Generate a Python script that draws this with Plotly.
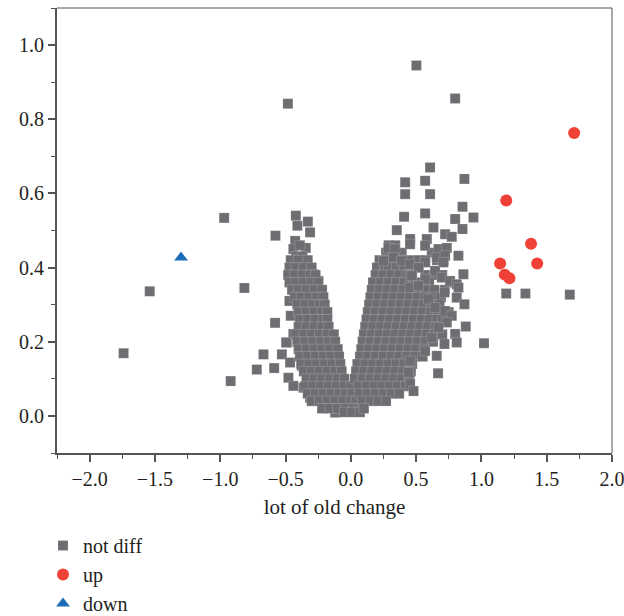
import plotly.graph_objects as go

# ---------------- data ----------------
nd_outliers = [(-1.74, 0.169), (-1.54, 0.336), (-0.97, 0.534), (-0.92, 0.094), (-0.815, 0.345),
               (-0.72, 0.125), (-0.669, 0.166), (-0.587, 0.129), (-0.58, 0.251), (-0.577, 0.486),
               (-0.482, 0.842), (0.502, 0.945), (0.799, 0.856), (1.19, 0.33), (1.337, 0.33),
               (1.677, 0.327), (1.02, 0.196), (0.668, 0.115)]

nd_left_scatter = [(-0.421, 0.540), (-0.329, 0.524), (-0.409, 0.513), (-0.312, 0.495), (-0.426, 0.472),
                   (-0.345, 0.453), (-0.337, 0.418), (-0.413, 0.391), (-0.452, 0.369), (-0.286, 0.382),
                   (-0.375, 0.373), (-0.248, 0.364), (-0.44, 0.346), (-0.312, 0.351), (-0.222, 0.337),
                   (-0.413, 0.319), (-0.286, 0.328), (-0.363, 0.297), (-0.235, 0.306), (-0.299, 0.292),
                   (-0.44, 0.45), (-0.39, 0.46), (-0.42, 0.43), (-0.37, 0.43),
                   (-0.375, 0.283), (-0.286, 0.288), (-0.21, 0.279), (-0.363, 0.256), (-0.248, 0.243),
                   (-0.44, 0.221), (-0.49, 0.198), (-0.528, 0.166), (-0.465, 0.144), (-0.478, 0.103),
                   (-0.44, 0.081), (-0.375, 0.135), (-0.363, 0.076), (-0.312, 0.049), (-0.286, 0.189),
                   (-0.21, 0.198), (-0.12, 0.009), (-0.495, 0.198), (-0.47, 0.31), (-0.46, 0.27)]

nd_left_rows = {
    0.42: [-0.46, -0.40, -0.33],
    0.40: [-0.47, -0.42, -0.36, -0.30],
    0.38: [-0.48, -0.43, -0.37, -0.31, -0.27],
    0.36: [-0.47, -0.42, -0.36, -0.30, -0.25],
    0.34: [-0.45, -0.40, -0.34, -0.28, -0.22],
    0.32: [-0.43, -0.38, -0.32, -0.26, -0.21],
    0.30: [-0.41, -0.35, -0.29, -0.24, -0.20],
    0.28: [-0.40, -0.34, -0.28, -0.22, -0.18],
    0.26: [-0.39, -0.33, -0.27, -0.21, -0.18],
    0.24: [-0.40, -0.34, -0.28, -0.22, -0.17],
    0.22: [-0.42, -0.36, -0.30, -0.24, -0.18, -0.13],
    0.20: [-0.41, -0.35, -0.29, -0.23, -0.17, -0.12],
    0.18: [-0.40, -0.34, -0.28, -0.22, -0.16, -0.10],
    0.16: [-0.39, -0.33, -0.27, -0.21, -0.15, -0.09],
    0.14: [-0.38, -0.32, -0.26, -0.20, -0.14, -0.08],
    0.12: [-0.36, -0.30, -0.24, -0.18, -0.12, -0.07],
    0.10: [-0.34, -0.28, -0.22, -0.16, -0.10, -0.05],
    0.08: [-0.35, -0.29, -0.23, -0.17, -0.11, -0.05, 0.00],
    0.06: [-0.33, -0.27, -0.21, -0.15, -0.09, -0.04, 0.01],
    0.04: [-0.30, -0.24, -0.18, -0.12, -0.06, 0.00, 0.04],
    0.02: [-0.22, -0.16, -0.10, -0.04, 0.02, 0.06],
    0.01: [-0.05, 0.01, 0.07],
}

nd_right_rows = {
    0.46: [0.29, 0.34],
    0.44: [0.27, 0.33, 0.39, 0.62],
    0.42: [0.22, 0.27, 0.33, 0.39, 0.45, 0.52, 0.57, 0.66, 0.71],
    0.40: [0.20, 0.26, 0.29, 0.35, 0.41, 0.47, 0.52],
    0.38: [0.19, 0.25, 0.31, 0.37, 0.43, 0.47, 0.57, 0.64, 0.70],
    0.36: [0.17, 0.23, 0.29, 0.35, 0.41, 0.48, 0.53, 0.60, 0.76],
    0.34: [0.16, 0.22, 0.28, 0.34, 0.40, 0.46, 0.52, 0.58, 0.64, 0.72],
    0.32: [0.15, 0.21, 0.27, 0.33, 0.39, 0.45, 0.51, 0.57, 0.63, 0.69],
    0.30: [0.14, 0.20, 0.26, 0.32, 0.38, 0.44, 0.50, 0.56, 0.62, 0.68],
    0.28: [0.13, 0.19, 0.25, 0.31, 0.37, 0.43, 0.49, 0.55, 0.61, 0.67, 0.75],
    0.26: [0.12, 0.18, 0.24, 0.30, 0.36, 0.42, 0.48, 0.54, 0.60, 0.66, 0.70],
    0.24: [0.11, 0.17, 0.23, 0.29, 0.35, 0.41, 0.47, 0.53, 0.59, 0.65],
    0.22: [0.10, 0.16, 0.22, 0.28, 0.34, 0.40, 0.46, 0.52, 0.58, 0.64, 0.70],
    0.20: [0.09, 0.15, 0.21, 0.27, 0.33, 0.39, 0.45, 0.51, 0.57, 0.63],
    0.18: [0.08, 0.14, 0.20, 0.26, 0.32, 0.38, 0.44, 0.50, 0.56],
    0.16: [0.07, 0.13, 0.19, 0.25, 0.31, 0.37, 0.43, 0.49, 0.55],
    0.14: [0.05, 0.11, 0.17, 0.23, 0.29, 0.35, 0.41, 0.47],
    0.12: [0.04, 0.10, 0.16, 0.22, 0.28, 0.34, 0.40, 0.46],
    0.10: [0.03, 0.09, 0.15, 0.21, 0.27, 0.33, 0.39, 0.45],
    0.08: [0.06, 0.12, 0.18, 0.24, 0.30, 0.36, 0.42],
    0.06: [0.07, 0.13, 0.19, 0.25, 0.31, 0.37],
    0.04: [0.09, 0.15, 0.21, 0.27],
    0.02: [0.10],
}

nd_right_scatter = [(0.416, 0.630), (0.416, 0.598), (0.408, 0.537), (0.352, 0.501), (0.454, 0.472),
                    (0.288, 0.453), (0.339, 0.45), (0.25, 0.418), (0.326, 0.427), (0.39, 0.418),
                    (0.454, 0.378), (0.454, 0.346), (0.607, 0.670), (0.569, 0.634), (0.87, 0.639),
                    (0.607, 0.598), (0.855, 0.564), (0.569, 0.546), (0.799, 0.531), (0.939, 0.535),
                    (0.633, 0.508), (0.855, 0.504), (0.722, 0.49), (0.773, 0.483), (0.454, 0.477),
                    (0.582, 0.477), (0.454, 0.463), (0.569, 0.459), (0.671, 0.45), (0.735, 0.453),
                    (0.824, 0.432), (0.658, 0.427), (0.722, 0.432), (0.454, 0.409), (0.569, 0.414),
                    (0.709, 0.414), (0.518, 0.40), (0.645, 0.391), (0.862, 0.382), (0.467, 0.378),
                    (0.569, 0.369), (0.697, 0.373), (0.76, 0.364), (0.811, 0.355), (0.518, 0.351),
                    (0.717, 0.333), (0.824, 0.346), (0.811, 0.319), (0.87, 0.301), (0.594, 0.315),
                    (0.645, 0.292), (0.722, 0.283), (0.773, 0.27), (0.735, 0.252), (0.88, 0.241),
                    (0.671, 0.238), (0.799, 0.221), (0.811, 0.198), (0.717, 0.194), (0.62, 0.211),
                    (0.658, 0.162), (0.454, 0.148), (0.441, 0.117), (0.454, 0.086), (0.48, 0.067),
                    (0.569, 0.175)]

up_x = [1.71, 1.19, 1.38, 1.143, 1.427, 1.179, 1.215]
up_y = [0.763, 0.581, 0.464, 0.411, 0.411, 0.381, 0.371]

down_x = [-1.30]
down_y = [0.427]

x_ticks = [-2.0, -1.5, -1.0, -0.5, 0.0, 0.5, 1.0, 1.5, 2.0]
y_ticks = [0.0, 0.2, 0.4, 0.6, 0.8, 1.0]

# ---------------- assemble ----------------
nd_x, nd_y = [], []
for px, py in nd_outliers + nd_left_scatter:
    nd_x.append(px); nd_y.append(py)
for rows in (nd_left_rows, nd_right_rows):
    for ry, xs in rows.items():
        for rx in xs:
            nd_x.append(rx); nd_y.append(ry)
for px, py in nd_right_scatter:
    nd_x.append(px); nd_y.append(py)

GRAY = "#6d6e71"
RED = "#ef4136"
BLUE = "#1c6bb5"
AXIS = "#555555"
TXT = "#231f20"
FONT = "Liberation Serif"
FS = 20

W, H = 624, 616

fig = go.Figure()
fig.add_trace(go.Scatter(x=nd_x, y=nd_y, mode="markers", name="not diff",
                         marker=dict(symbol="square", size=10, color=GRAY,
                                     line=dict(width=0.5, color="rgba(255,255,255,0.35)"))))
fig.add_trace(go.Scatter(x=up_x, y=up_y, mode="markers", name="up",
                         marker=dict(symbol="circle", size=12, color=RED, line=dict(width=0))))
fig.add_trace(go.Scatter(x=down_x, y=down_y, mode="markers", name="down",
                         marker=dict(symbol="triangle-up", size=12, color=BLUE, line=dict(width=0))))

fig.update_layout(
    width=W, height=H,
    margin=dict(l=57, r=12, t=8, b=163, autoexpand=False),
    paper_bgcolor="white", plot_bgcolor="white",
    font=dict(family=FONT, size=FS, color=TXT),
    showlegend=True,
    legend=dict(xref="container", x=43 / W, xanchor="left",
                yref="container", y=(H - 526) / H, yanchor="top",
                font=dict(family=FONT, size=FS, color=TXT),
                bgcolor="rgba(0,0,0,0)", tracegroupgap=0),
    xaxis=dict(range=[-2.25, 2.0], tickvals=x_ticks,
               ticktext=[("\u2212" if v < 0 else "") + f"{abs(v):.1f}" for v in x_ticks],
               ticklabeloverflow="allow",
               showgrid=False, zeroline=False, showline=True, linecolor=AXIS, linewidth=2,
               ticks="outside", ticklen=7, tickwidth=1.5, tickcolor=AXIS,
               tickfont=dict(family=FONT, size=FS, color=TXT),
               minor=dict(dtick=0.25, ticks="outside", ticklen=4, tickwidth=1.2, tickcolor=AXIS,
                          showgrid=False),
               title=dict(text="lot of old change", font=dict(family=FONT, size=21, color=TXT),
                          standoff=10)),
    yaxis=dict(range=[-0.1, 1.1], tickvals=y_ticks,
               ticktext=[f"{v:.1f}" for v in y_ticks],
               ticklabeloverflow="allow",
               showgrid=False, zeroline=False, showline=True, linecolor=AXIS, linewidth=2,
               ticks="outside", ticklen=7, tickwidth=1.5, tickcolor=AXIS,
               tickfont=dict(family=FONT, size=FS, color=TXT),
               minor=dict(dtick=0.1, ticks="outside", ticklen=4, tickwidth=1.2, tickcolor=AXIS,
                          showgrid=False)),
)

# thin top and right frame lines
fig.add_shape(type="line", xref="paper", yref="paper", x0=0, x1=1, y0=1, y1=1,
              line=dict(color=AXIS, width=1))
fig.add_shape(type="line", xref="paper", yref="paper", x0=1, x1=1, y0=0, y1=1,
              line=dict(color=AXIS, width=1))

# remove the default page margin so the 624x616 figure fills the window exactly
fig.write_html("out.html",
               config={"displayModeBar": False},
               post_script="document.body.style.margin='0';document.body.style.overflow='hidden';")
